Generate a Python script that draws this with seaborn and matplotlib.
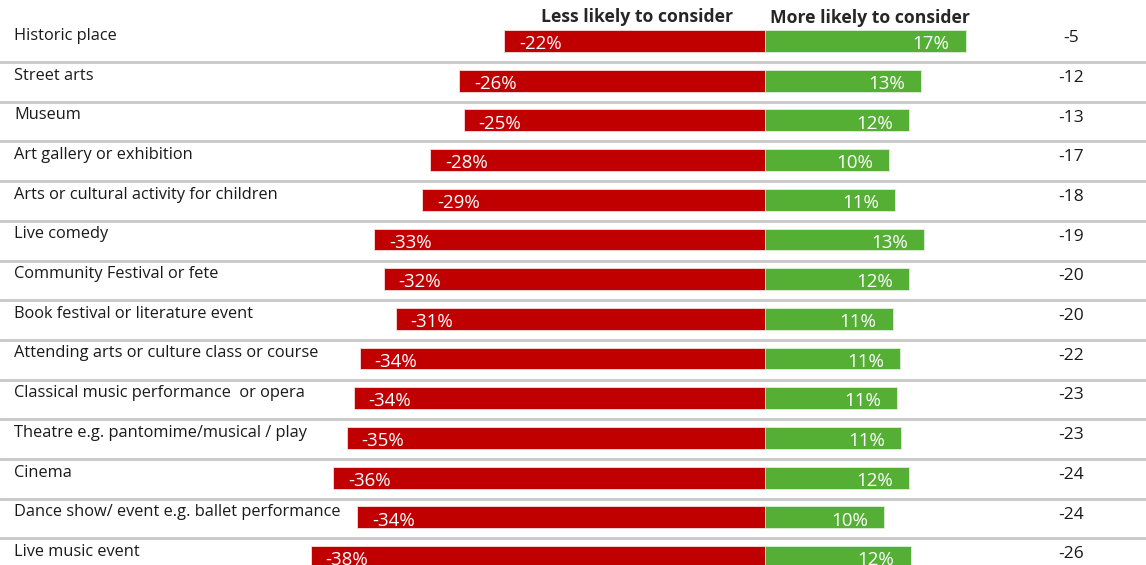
import matplotlib
matplotlib.use("Agg")
import matplotlib.pyplot as plt
import seaborn as sns
import pandas as pd

# Datos
actividades = [
    "Historic place", "Street arts", "Museum", "Art gallery or exhibition",
    "Arts or cultural activity for children", "Live comedy",
    "Community Festival or fete", "Book festival or literature event",
    "Attending arts or culture class or course",
    "Classical music performance  or opera",
    "Theatre e.g. pantomime/musical / play", "Cinema",
    "Dance show/ event e.g. ballet performance", "Live music event",
]
menos_prob = [-21.8, -25.6, -25.2, -28.0, -28.7, -32.7, -31.9, -30.9,
              -33.9, -34.4, -35.0, -36.1, -34.1, -38.0]
mas_prob = [16.8, 13.1, 12.1, 10.4, 10.9, 13.3, 12.1, 10.7,
            11.3, 11.1, 11.4, 12.1, 10.0, 12.2]
neto = [-5, -12, -13, -17, -18, -19, -20, -20, -22, -23, -23, -24, -24, -26]

df = pd.DataFrame({"actividad": actividades, "menos": menos_prob, "mas": mas_prob})

sns.set_style("white")
plt.rcParams["font.family"] = ["Open Sans", "DejaVu Sans"]

rojo = "#C00000"
verde = "#55AF35"

fig = plt.figure(figsize=(11.46, 5.65), dpi=100)
ax = fig.add_axes([0, 0, 1, 1])

sns.barplot(data=df, x="menos", y="actividad", orient="h", color=rojo,
            width=0.55, saturation=1, ax=ax, edgecolor="#f4dede", linewidth=0.6)
sns.barplot(data=df, x="mas", y="actividad", orient="h", color=verde,
            width=0.55, saturation=1, ax=ax, edgecolor="#dff0d8", linewidth=0.6)

ax.set_xlim(-64.0, 31.9)
ax.set_ylim(13.2, -1.033)

for i, (nombre, a, b, n) in enumerate(zip(actividades, menos_prob, mas_prob, neto)):
    ax.text(-62.8, i - 0.13, nombre, ha="left", va="center", fontsize=11.8, color="#1a1a1a")
    ax.text(a + 1.25, i + 0.08, f"{a:.0f}%", ha="left", va="center", fontsize=13.5, color="white")
    ax.text(b - 1.35, i + 0.08, f"{b:.0f}%", ha="right", va="center", fontsize=13.5, color="white")
    ax.text(25.6, i - 0.07, f"{n}", ha="center", va="center", fontsize=12.5, color="#1a1a1a")
    if i < len(actividades) - 1:
        ax.axhline(i + 0.53, color="#c8c8c8", lw=2)

ax.text(-10.7, -0.6, "Less likely to consider", ha="center", va="center",
        fontsize=12.7, fontweight="bold", color="#262626")
ax.text(8.8, -0.58, "More likely to consider", ha="center", va="center",
        fontsize=12.7, fontweight="bold", color="#262626")

ax.set_xlabel("")
ax.set_ylabel("")
ax.set_xticks([])
ax.set_yticks([])
sns.despine(ax=ax, left=True, bottom=True)

fig.savefig("out.png", dpi=100)
